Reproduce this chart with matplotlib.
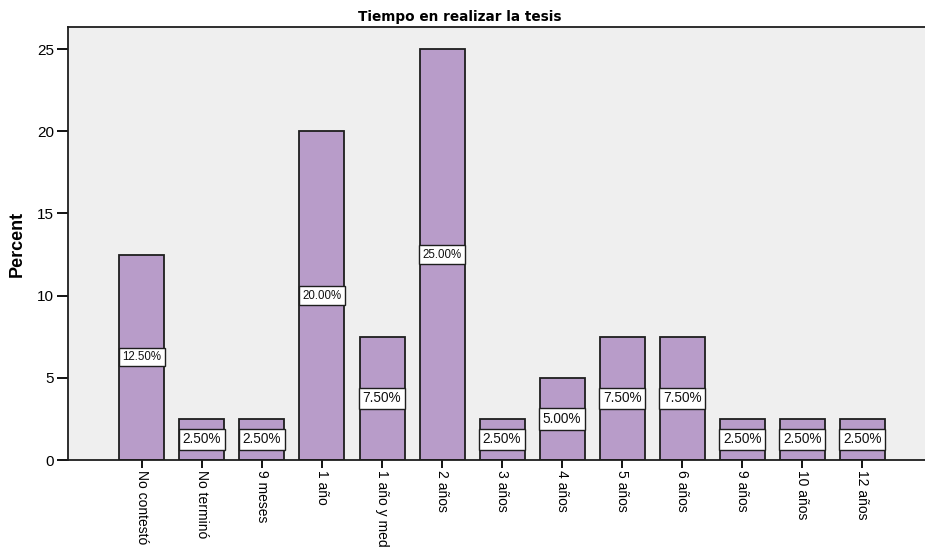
import matplotlib
matplotlib.use("Agg")
import matplotlib.pyplot as plt

plt.rcParams["font.family"] = ["Liberation Sans", "DejaVu Sans"]

categories = ["No contestó", "No terminó", "9 meses", "1 año", "1 año y medio",
              "2 años", "3 años", "4 años", "5 años", "6 años", "9 años",
              "10 años", "12 años"]
percent = [12.5, 2.5, 2.5, 20.0, 7.5, 25.0, 2.5, 5.0, 7.5, 7.5, 2.5, 2.5, 2.5]
y_ticks = [0, 5, 10, 15, 20, 25]

fig = plt.figure(figsize=(9.25, 5.47), dpi=100)
ax = fig.add_axes([68 / 925, 87 / 547, 858 / 925, 433 / 547])
ax.set_facecolor("#efefef")

x = list(range(len(categories)))
ax.bar(x, percent, width=0.75, color="#b89cc9", edgecolor="#1e1e1e",
       linewidth=1.3, zorder=2)

# value boxes at half height of each bar
for xi, v in zip(x, percent):
    size = 8.3 if v >= 10 else 9.8
    ax.text(xi, v / 2, f"{v:.2f}%", ha="center", va="center", fontsize=size,
            color="#111111", zorder=3,
            bbox=dict(boxstyle="square,pad=0.28", facecolor="white",
                      edgecolor="#1e1e1e", linewidth=1.0))

ax.set_xlim(-1.23, 13.06)
ax.set_ylim(0, 26.34)
ax.set_yticks(y_ticks)
ax.set_yticklabels([str(t) for t in y_ticks], fontsize=11)
ax.set_xticks(x)
ax.set_xticklabels(categories, rotation=270, fontsize=10, va="top", ha="center")
ax.tick_params(axis="y", direction="out", length=8, width=1.3, pad=2)
ax.tick_params(axis="x", direction="out", length=6, width=1.3, pad=1)

for side in ["left", "bottom", "top"]:
    ax.spines[side].set_linewidth(1.3)
    ax.spines[side].set_color("#1e1e1e")
ax.spines["right"].set_visible(False)

ax.set_ylabel("Percent", fontsize=13, fontweight="bold", labelpad=8)
fig.text(460 / 925, 1 - 17 / 547, "Tiempo en realizar la tesis", ha="center",
         va="center", fontsize=9.8, fontweight="bold", family="DejaVu Sans")

fig.savefig("out.png", dpi=100)
